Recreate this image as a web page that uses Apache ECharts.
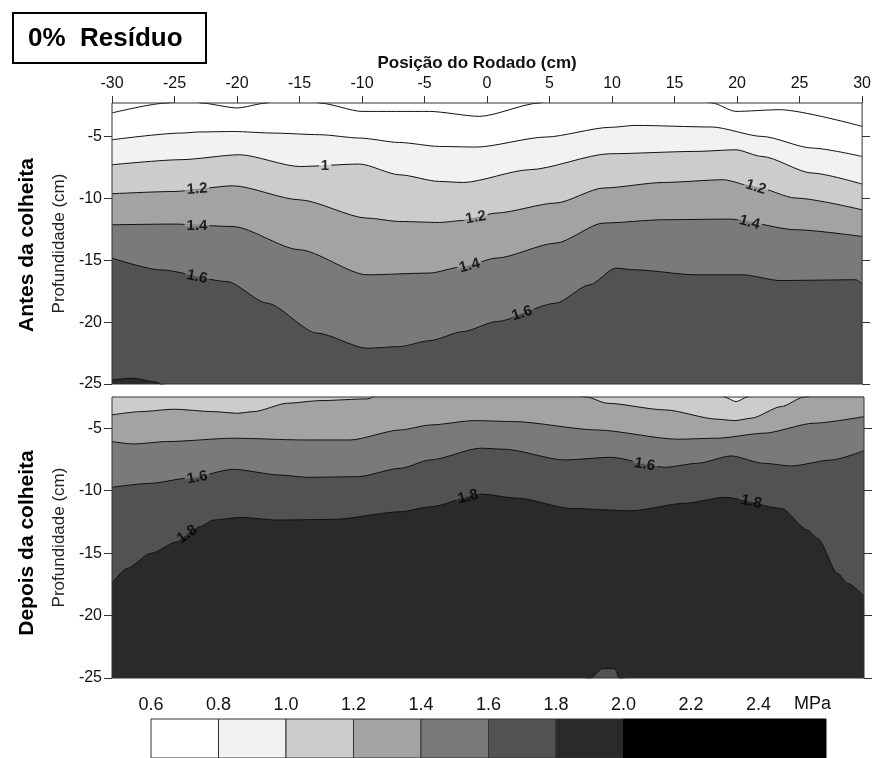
<!DOCTYPE html>
<html><head><meta charset="utf-8">
<script src="https://cdn.jsdelivr.net/npm/echarts@6/dist/echarts.min.js"></script>
<style>html,body{margin:0;padding:0;background:#fff}#c{width:874px;height:758px}</style>
</head><body><div id="c"></div>
<script>
// ---------- data ----------
const xTicks = [-30,-25,-20,-15,-10,-5,0,5,10,15,20,25,30];
const yTicks = [-25,-20,-15,-10,-5];
const legendTicks = [0.6,0.8,1.0,1.2,1.4,1.6,1.8,2.0,2.2,2.4];
const legendBreaks = [0.6,0.8,1.0,1.2,1.4,1.6,1.8,2.0,2.6];
const bandColors = ['#ffffff','#f2f2f2','#cccccc','#a3a3a3','#7a7a7a','#525252','#2a2a2a','#000000'];

// Antes da colheita: contour lines [position cm, depth cm]
const antes06 = [[-30,-3.1],[-25.6,-2.3],[-24,-2.0],[-23.5,-2.0],[-22.9,-2.3],[-20,-2.7],[-17.6,-2.3],[-17,-2.0],[-14,-2.0],[-13.4,-2.3],[-10,-2.98],[-4.6,-2.98],[-0.6,-3.38],[4.2,-2.3],[5,-2.0],[17,-2.0],[18,-2.3],[19.9,-2.98],[23.4,-2.84],[30,-4.19]];
const antes08 = [[-30,-5.27],[-24.5,-4.73],[-23,-4.64],[-20.3,-4.6],[-17.1,-4.73],[-13.4,-4.86],[-10.2,-5.13],[-7,-5.49],[-3.8,-5.81],[-0.85,-5.86],[4.7,-5.05],[9.8,-4.27],[11.9,-4.11],[18,-4.24],[22,-5.0],[26,-5.94],[30,-6.62]];
const antes10 = [[-30,-7.29],[-24.5,-6.88],[-19.8,-6.48],[-15,-7.43],[-10.2,-7.23],[-7,-8.1],[-3.8,-8.64],[-1.9,-8.72],[3.4,-7.69],[9.8,-6.4],[16.7,-6.21],[19.9,-6.08],[22,-6.62],[26,-7.96],[30,-8.85]];
const antes12 = [[-30,-9.63],[-25.1,-9.45],[-20.3,-8.99],[-15,-10.12],[-9.6,-11.6],[-7,-11.87],[-3.8,-11.95],[-1.9,-11.79],[0.75,-11.19],[5.5,-10.38],[9.3,-9.17],[14.1,-8.72],[18.9,-8.5],[21.5,-9.1],[24.7,-9.98],[30,-10.93]];
const antes14 = [[-30,-12.14],[-25.1,-12.08],[-20.3,-12.28],[-15,-14.16],[-9.6,-16.18],[-4.6,-16.04],[-1.9,-15.51],[0.75,-14.83],[5.5,-13.62],[9.3,-12.0],[14.1,-11.73],[19.4,-11.68],[24.7,-12.54],[30,-13.08]];
const antes16 = [[-30,-14.83],[-26.1,-15.78],[-20.8,-16.72],[-17.6,-18.47],[-13.6,-20.89],[-9.6,-22.11],[-7,-21.98],[-4.6,-21.5],[-1.9,-20.76],[0.75,-19.96],[5.5,-18.47],[8.2,-16.99],[10.3,-15.64],[11.9,-15.78],[16.7,-16.18],[20.5,-16.18],[23.4,-16.64],[29.5,-16.58],[30,-16.9]];
const antes18 = [[-30,-24.67],[-28.3,-24.53],[-26.4,-24.86],[-25.8,-25.3]];

// Depois da colheita
const depoisBase = [[-30,-2.0],[30,-2.0]];
const depois10 = [[18.6,-2.2],[18.85,-2.5],[19.8,-2.87],[20.7,-2.5],[21,-2.2]];
const depois12 = [[-30,-3.93],[-27.7,-3.67],[-25.1,-3.48],[-21.9,-3.67],[-20,-3.8],[-18.7,-3.67],[-16,-3.0],[-13.4,-2.79],[-9.6,-2.65],[-8.5,-2.2],[6.5,-2.2],[7.9,-2.51],[9.5,-3.0],[14.1,-3.53],[18.3,-4.28],[19.7,-4.39],[21,-4.2],[23.4,-3.27],[25.2,-2.51],[26.5,-2.2],[30,-2.2]];
const depois14 = [[-30,-6.07],[-28.3,-6.26],[-25.6,-6.07],[-20.3,-5.8],[-14.7,-5.94],[-11,-5.94],[-7,-5.14],[-4.6,-4.74],[-1.1,-4.39],[2.1,-4.47],[8.7,-5.14],[15.1,-5.88],[18.3,-5.8],[22,-5.4],[26,-4.6],[30,-4.07]];
const depois16 = [[-30,-9.73],[-26.9,-9.41],[-24,-9.01],[-20.3,-8.29],[-16.6,-8.75],[-14.4,-8.93],[-10.4,-8.88],[-7,-8.21],[-4.6,-7.54],[-0.6,-6.6],[1.3,-6.68],[6.1,-7.54],[9.8,-7.33],[14.1,-8.13],[16.7,-7.81],[19.4,-7.22],[22,-7.81],[24.2,-8.02],[27.4,-7.54],[30,-6.8]];
const depois18 = [[-30,-17.43],[-28.8,-16.23],[-26.9,-15.02],[-24.8,-14.09],[-23,-12.89],[-21.9,-12.35],[-19.8,-12.14],[-16.8,-12.35],[-12.3,-12.3],[-7,-11.69],[-4.6,-11.29],[-0.6,-10.27],[2.4,-10.61],[6.6,-11.42],[11.4,-11.61],[15.7,-11.01],[18.9,-10.53],[23.4,-11.42],[25.5,-13.16],[26.3,-13.82],[27.9,-16.63],[28.7,-17.43],[30,-18.45]];
const depois18b = [[7.8,-25.4],[8.2,-25],[9.1,-24.25],[10.1,-24.25],[10.5,-25],[10.9,-25.4]];

// contour labels: [position, depth, text, level index of contour, angle]
const antesLabels = [[-12.96,-7.4,'1',2,0],[-23.2,-9.25,'1.2',3,4],[-0.9,-11.55,'1.2',3,10],[21.5,-9.1,'1.2',3,-17],
  [-23.2,-12.2,'1.4',4,0],[-1.4,-15.45,'1.4',4,15],[21,-11.95,'1.4',4,-15],[-23.2,-16.35,'1.6',5,-12],[2.8,-19.3,'1.6',5,18]];
const depoisLabels = [[-23.2,-8.95,'1.6',5,10],[12.5,-7.9,'1.6',5,-10],[-24.0,-13.5,'1.8',6,35],[-1.6,-10.5,'1.8',6,15],[21,-10.9,'1.8',6,-12]];

// ---------- chart ----------
const FONT = "'Liberation Sans', Arial, sans-serif";
const chart = echarts.init(document.getElementById('c'), null, {renderer:'canvas'});

function contour(gi, data, fillIdx, origin, noLine) {
  const s = {
    type:'line', xAxisIndex: gi, yAxisIndex: gi*2, data: data, symbol:'none',
    smooth:0.25, smoothMonotone:'x', clip:true, silent:true, animation:false,
    lineStyle:{color:'#111', width: noLine ? 0 : 1}, z:2
  };
  if (fillIdx != null) s.areaStyle = {color: bandColors[fillIdx], opacity:1, origin: origin || 'start'};
  return s;
}
function labelSeries(gi, labels) {
  return {
    type:'scatter', xAxisIndex: gi, yAxisIndex: gi*2, symbolSize:1, silent:true, animation:false, z:5,
    itemStyle:{color:'rgba(0,0,0,0)'},
    data: labels.map(l => ({
      value:[l[0], l[1]],
      label:{show:true, position:'inside', formatter:l[2], rotate:l[4],
        fontFamily:FONT, fontWeight:'bold', fontSize:15, color:'#000', padding:[0,2],
        backgroundColor:{type:'linear', x:0, y:0, x2:0, y2:1, colorStops:[
          {offset:0, color:bandColors[l[3]-1]},{offset:0.5, color:bandColors[l[3]-1]},
          {offset:0.5, color:bandColors[l[3]]},{offset:1, color:bandColors[l[3]]}]}}
    }))
  };
}

const yCommon = (gi, top, left) => ({
  type:'value', gridIndex: gi, min:-25, max: top, position: left ? 'left' : 'right',
  axisLine:{show:false, onZero:false}, splitLine:{show:false},
  axisTick:{show:true, inside:false, length:8, customValues: yTicks, lineStyle:{color:'#333'}},
  axisLabel:{show:left, customValues: yTicks, margin:10, fontFamily:FONT, fontSize:16, color:'#111'},
  name: left ? 'Profundidade (cm)' : '', nameLocation:'middle', nameRotate:90, nameGap:38,
  nameTextStyle:{fontFamily:FONT, fontSize:17, color:'#222'}
});

const option = {
  backgroundColor:'#fff',
  animation:false,
  grid:[
    {left:112, width:752, top:103, height:281, show:true, backgroundColor:'rgba(0,0,0,0)', borderColor:'#333', borderWidth:1, z:4},
    {left:112, width:752, top:397, height:281, show:true, backgroundColor:'rgba(0,0,0,0)', borderColor:'#333', borderWidth:1, z:4},
    {left:151, width:675, top:719, height:50, show:false}
  ],
  xAxis:[
    {type:'value', gridIndex:0, position:'top', min:-30, max:30, interval:5,
      axisLine:{show:false, onZero:false}, splitLine:{show:false},
      axisTick:{show:true, length:7, lineStyle:{color:'#333'}},
      axisLabel:{margin:11, fontFamily:FONT, fontSize:16, color:'#111'},
      name:'Posição do Rodado (cm)', nameLocation:'middle', nameGap:31,
      nameTextStyle:{fontFamily:FONT, fontWeight:'bold', fontSize:17, color:'#111', padding:[0,20,0,0]}},
    {type:'value', gridIndex:1, min:-30, max:30, interval:5, show:false, axisLine:{onZero:false}},
    {type:'value', gridIndex:2, position:'top', min:6, max:26, interval:2,
      axisLine:{show:false, onZero:false}, axisTick:{show:false}, splitLine:{show:false},
      axisLabel:{margin:5, fontFamily:FONT, fontSize:18, color:'#111',
        formatter: v => legendTicks.some(t => Math.round(t*10) === v) ? (v/10).toFixed(1) : ''}}
  ],
  yAxis:[
    yCommon(0, -2.3, true), yCommon(0, -2.3, false),
    yCommon(1, -2.5, true), yCommon(1, -2.5, false),
    {type:'value', gridIndex:2, min:0, max:1, show:false, axisLine:{onZero:false}}
  ],
  series:[
    contour(0, antes06, null),
    contour(0, antes08, 1),
    contour(0, antes10, 2),
    contour(0, antes12, 3),
    contour(0, antes14, 4),
    contour(0, antes16, 5),
    contour(0, antes18, 6),
    labelSeries(0, antesLabels),
    contour(1, depoisBase, 2, 'start', true),
    contour(1, depois10, 1, 'end'),
    contour(1, depois12, 3),
    contour(1, depois14, 4),
    contour(1, depois16, 5),
    contour(1, depois18, 6),
    contour(1, depois18b, 5),
    labelSeries(1, depoisLabels),
    {
      type:'custom', xAxisIndex:2, yAxisIndex:4, silent:true, animation:false,
      data: legendBreaks.slice(0,-1).map((b,i) => [Math.round(b*10), Math.round(legendBreaks[i+1]*10), i]),
      renderItem: (params, api) => {
        const p0 = api.coord([api.value(0), 1]);
        const p1 = api.coord([api.value(1), 0]);
        const c = bandColors[api.value(2)];
        return {type:'rect', shape:{x:p0[0], y:p0[1], width:p1[0]-p0[0], height:p1[1]-p0[1]},
          style:{fill:c, stroke: c === '#000000' ? '#000' : '#333', lineWidth:1}};
      }
    }
  ],
  graphic:[
    {type:'rect', left:12, top:12, shape:{width:193, height:50}, style:{fill:'#fff', stroke:'#000', lineWidth:2}},
    {type:'text', left:28, top:26, style:{text:'0%  Resíduo', font:"bold 26px 'Liberation Sans', Arial, sans-serif", fill:'#000'}},
    {type:'text', x:27.5, y:245, rotation:Math.PI/2, style:{text:'Antes da colheita', align:'center', verticalAlign:'middle', font:"bold 21px 'Liberation Sans', Arial, sans-serif", fill:'#000'}},
    {type:'text', x:27.5, y:543, rotation:Math.PI/2, style:{text:'Depois da colheita', align:'center', verticalAlign:'middle', font:"bold 21px 'Liberation Sans', Arial, sans-serif", fill:'#000'}},
    {type:'text', x:794, y:704, style:{text:'MPa', align:'left', verticalAlign:'middle', font:"18px 'Liberation Sans', Arial, sans-serif", fill:'#111'}}
  ]
};
chart.setOption(option);
</script></body></html>
